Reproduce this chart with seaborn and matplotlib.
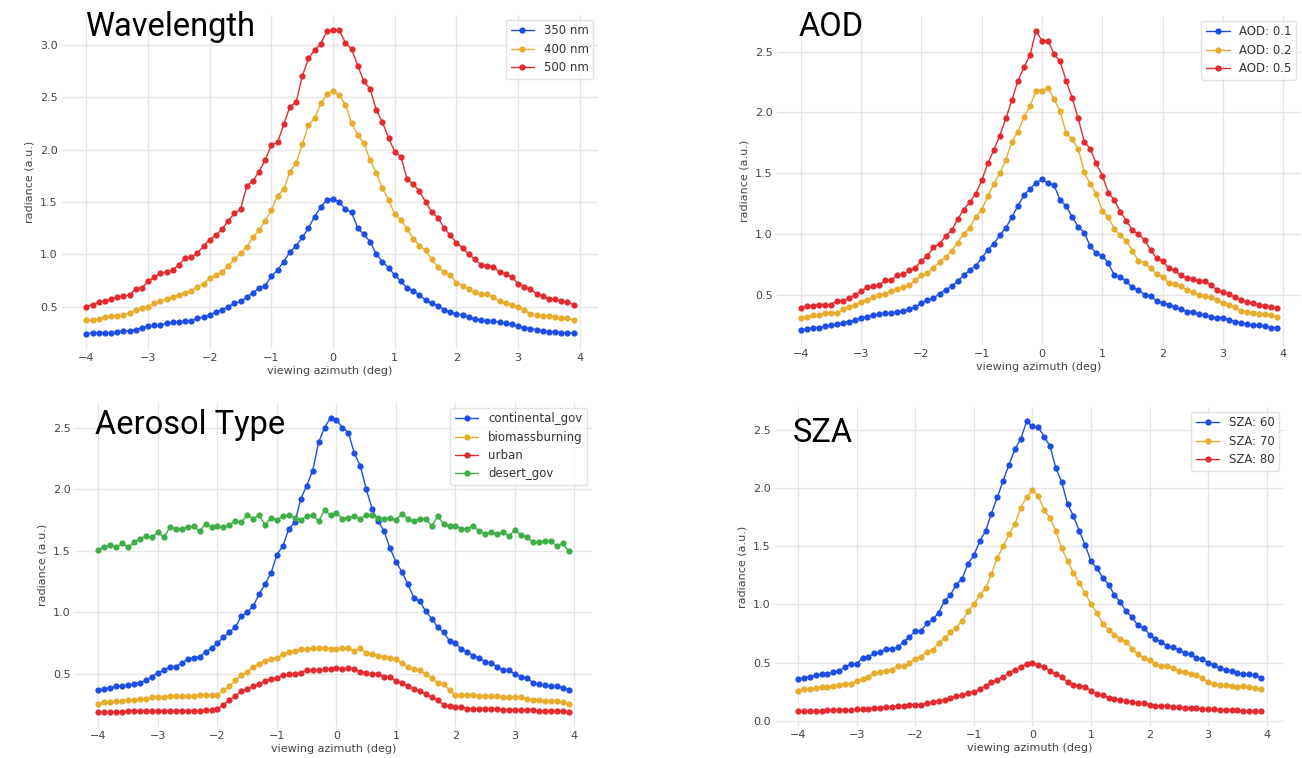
import numpy as np
import pandas as pd
import matplotlib
matplotlib.use("Agg")
import matplotlib.pyplot as plt
import seaborn as sns

# viewing azimuth grid (deg)
azimuth = np.round(np.arange(-40, 40) / 10.0, 1)

# ---- Wavelength panel ----
wl_labels = ["350 nm", "400 nm", "500 nm"]
wl_350 = [0.24,0.25,0.25,0.25,0.25,0.26,0.27,0.27,0.28,0.30, 0.31,0.32,0.32,0.34,0.35,0.35,0.36,0.36,0.39,0.40,
          0.42,0.45,0.47,0.50,0.53,0.55,0.59,0.63,0.68,0.70, 0.79,0.85,0.93,1.02,1.08,1.16,1.25,1.36,1.45,1.52,
          1.53,1.50,1.43,1.40,1.25,1.19,1.12,1.00,0.93,0.87, 0.80,0.74,0.68,0.65,0.61,0.56,0.53,0.51,0.47,0.45,
          0.43,0.42,0.40,0.38,0.37,0.36,0.36,0.35,0.34,0.33, 0.31,0.30,0.29,0.28,0.27,0.26,0.26,0.25,0.25,0.25]
wl_400 = [0.37,0.37,0.38,0.40,0.41,0.41,0.42,0.44,0.47,0.49, 0.50,0.53,0.55,0.57,0.59,0.61,0.63,0.65,0.69,0.72,
          0.77,0.80,0.83,0.89,0.95,1.01,1.07,1.16,1.23,1.32, 1.42,1.56,1.62,1.79,1.87,2.05,2.23,2.30,2.44,2.53,
          2.56,2.52,2.43,2.25,2.14,2.06,1.90,1.78,1.63,1.52, 1.38,1.33,1.24,1.15,1.08,1.04,0.95,0.88,0.83,0.80,
          0.73,0.70,0.67,0.64,0.62,0.62,0.59,0.55,0.53,0.52, 0.50,0.47,0.43,0.42,0.41,0.41,0.40,0.39,0.39,0.37]
wl_500 = [0.50,0.52,0.54,0.55,0.57,0.59,0.60,0.61,0.67,0.68, 0.74,0.78,0.82,0.83,0.85,0.90,0.96,0.97,1.01,1.08,
          1.14,1.18,1.24,1.32,1.39,1.43,1.65,1.70,1.79,1.90, 2.04,2.07,2.24,2.41,2.45,2.70,2.87,2.95,3.01,3.13,
          3.14,3.14,3.02,2.96,2.80,2.65,2.58,2.38,2.26,2.11, 1.98,1.93,1.72,1.67,1.60,1.50,1.40,1.35,1.25,1.18,
          1.11,1.06,1.00,0.95,0.90,0.89,0.88,0.83,0.81,0.78, 0.72,0.69,0.67,0.62,0.60,0.57,0.57,0.55,0.54,0.52]

# ---- AOD panel ----
aod_labels = ["AOD: 0.1", "AOD: 0.2", "AOD: 0.5"]
aod_01 = [0.21,0.22,0.23,0.23,0.24,0.25,0.26,0.27,0.28,0.29, 0.31,0.32,0.33,0.34,0.35,0.35,0.36,0.37,0.38,0.40,
          0.43,0.46,0.47,0.51,0.54,0.57,0.61,0.66,0.70,0.74, 0.80,0.87,0.92,0.99,1.05,1.14,1.23,1.32,1.37,1.42,
          1.45,1.42,1.40,1.28,1.23,1.14,1.06,1.01,0.90,0.84, 0.82,0.76,0.66,0.65,0.61,0.56,0.54,0.50,0.49,0.45,
          0.43,0.42,0.40,0.38,0.36,0.36,0.34,0.33,0.32,0.31, 0.31,0.29,0.28,0.27,0.26,0.25,0.25,0.24,0.23,0.23]
aod_02 = [0.31,0.32,0.33,0.33,0.35,0.35,0.35,0.38,0.40,0.42, 0.44,0.46,0.48,0.50,0.51,0.53,0.55,0.56,0.58,0.62,
          0.66,0.68,0.72,0.77,0.81,0.86,0.93,1.00,1.05,1.14, 1.20,1.31,1.41,1.50,1.61,1.76,1.84,1.96,2.05,2.18,
          2.18,2.20,2.11,2.01,1.83,1.78,1.70,1.51,1.41,1.33, 1.19,1.14,1.04,0.99,0.94,0.86,0.78,0.76,0.72,0.67,
          0.65,0.60,0.59,0.57,0.54,0.52,0.50,0.49,0.48,0.46, 0.43,0.42,0.40,0.37,0.36,0.35,0.34,0.34,0.33,0.32]
aod_05 = [0.39,0.41,0.41,0.42,0.42,0.42,0.45,0.45,0.47,0.50, 0.53,0.56,0.57,0.58,0.62,0.62,0.66,0.67,0.70,0.72,
          0.78,0.82,0.89,0.92,0.98,1.03,1.12,1.20,1.26,1.33, 1.44,1.58,1.69,1.81,1.95,2.10,2.26,2.37,2.47,2.67,
          2.59,2.59,2.48,2.42,2.26,2.12,1.95,1.76,1.70,1.58, 1.48,1.34,1.28,1.18,1.11,1.03,1.00,0.95,0.87,0.80,
          0.78,0.72,0.70,0.66,0.64,0.63,0.61,0.61,0.58,0.54, 0.52,0.51,0.48,0.46,0.44,0.43,0.42,0.41,0.40,0.39]

# ---- Aerosol type panel ----
aer_labels = ["continental_gov", "biomassburning", "urban", "desert_gov"]
aer_cont = [0.37,0.38,0.39,0.40,0.40,0.41,0.42,0.43,0.45,0.48, 0.51,0.53,0.56,0.56,0.59,0.62,0.63,0.64,0.68,0.71,
            0.75,0.80,0.84,0.88,0.97,1.00,1.05,1.15,1.23,1.32, 1.47,1.54,1.68,1.73,1.92,2.03,2.15,2.38,2.50,2.58,
            2.56,2.50,2.46,2.29,2.19,2.00,1.84,1.74,1.66,1.52, 1.41,1.33,1.23,1.12,1.09,1.01,0.95,0.88,0.84,0.77,
            0.75,0.70,0.68,0.65,0.63,0.60,0.59,0.56,0.53,0.53, 0.50,0.48,0.47,0.43,0.42,0.41,0.40,0.40,0.39,0.37]
aer_bio = [0.26,0.27,0.27,0.28,0.28,0.29,0.29,0.30,0.30,0.31, 0.31,0.31,0.32,0.32,0.32,0.32,0.32,0.33,0.33,0.33,
           0.33,0.37,0.40,0.45,0.49,0.52,0.56,0.58,0.61,0.62, 0.63,0.66,0.68,0.69,0.70,0.70,0.71,0.71,0.71,0.70,
           0.70,0.71,0.71,0.69,0.71,0.67,0.66,0.65,0.64,0.63, 0.62,0.59,0.56,0.54,0.53,0.50,0.47,0.43,0.42,0.37,
           0.33,0.33,0.33,0.33,0.32,0.32,0.32,0.32,0.31,0.31, 0.31,0.31,0.30,0.29,0.29,0.28,0.28,0.28,0.27,0.26]
aer_urban = [0.19,0.19,0.19,0.19,0.19,0.20,0.20,0.20,0.20,0.20, 0.20,0.20,0.20,0.20,0.20,0.20,0.20,0.20,0.21,0.21,
             0.22,0.25,0.29,0.32,0.36,0.38,0.40,0.42,0.44,0.46, 0.47,0.49,0.50,0.50,0.51,0.53,0.53,0.53,0.54,0.54,
             0.55,0.54,0.55,0.54,0.52,0.51,0.50,0.50,0.48,0.48, 0.44,0.43,0.40,0.38,0.36,0.34,0.31,0.29,0.25,0.24,
             0.23,0.23,0.22,0.22,0.22,0.22,0.22,0.22,0.21,0.21, 0.21,0.21,0.21,0.21,0.20,0.20,0.20,0.20,0.20,0.19]
aer_desert = [1.51,1.53,1.55,1.53,1.56,1.53,1.57,1.60,1.62,1.61, 1.65,1.61,1.69,1.68,1.68,1.69,1.70,1.66,1.72,1.69,
              1.70,1.69,1.71,1.74,1.73,1.79,1.76,1.79,1.71,1.77, 1.75,1.78,1.79,1.77,1.75,1.78,1.79,1.74,1.83,1.79,
              1.81,1.76,1.77,1.78,1.76,1.79,1.79,1.77,1.76,1.77, 1.75,1.80,1.76,1.74,1.76,1.76,1.70,1.78,1.72,1.70,
              1.70,1.68,1.68,1.70,1.66,1.64,1.65,1.64,1.65,1.62, 1.67,1.63,1.61,1.57,1.57,1.58,1.58,1.54,1.56,1.50]

# ---- SZA panel ----
sza_labels = ["SZA: 60", "SZA: 70", "SZA: 80"]
sza_60 = [0.36,0.37,0.38,0.39,0.40,0.40,0.42,0.43,0.46,0.49, 0.49,0.54,0.55,0.58,0.59,0.62,0.62,0.63,0.68,0.72,
          0.77,0.77,0.84,0.87,0.93,1.03,1.08,1.17,1.22,1.35, 1.42,1.54,1.63,1.78,1.92,2.06,2.20,2.33,2.42,2.57,
          2.53,2.52,2.44,2.36,2.17,2.05,1.86,1.76,1.63,1.51, 1.37,1.31,1.23,1.17,1.08,1.02,0.94,0.89,0.82,0.80,
          0.74,0.70,0.68,0.64,0.63,0.61,0.58,0.57,0.54,0.53, 0.50,0.48,0.45,0.44,0.43,0.41,0.40,0.40,0.39,0.37]
sza_70 = [0.26,0.27,0.27,0.28,0.29,0.29,0.30,0.31,0.32,0.32, 0.34,0.36,0.38,0.41,0.42,0.43,0.44,0.47,0.47,0.50,
          0.53,0.55,0.59,0.61,0.67,0.71,0.76,0.80,0.86,0.94, 1.00,1.08,1.14,1.26,1.40,1.50,1.60,1.69,1.83,1.92,
          1.98,1.93,1.81,1.74,1.63,1.48,1.37,1.27,1.18,1.10, 1.00,0.93,0.83,0.78,0.74,0.70,0.68,0.62,0.57,0.54,
          0.52,0.49,0.47,0.47,0.45,0.43,0.42,0.40,0.39,0.37, 0.33,0.32,0.31,0.31,0.30,0.29,0.30,0.29,0.28,0.27]
sza_80 = [0.08,0.08,0.08,0.08,0.08,0.09,0.09,0.09,0.09,0.09, 0.10,0.10,0.10,0.11,0.11,0.12,0.12,0.13,0.13,0.14,
          0.14,0.14,0.15,0.16,0.17,0.18,0.20,0.21,0.22,0.24, 0.25,0.27,0.30,0.33,0.35,0.38,0.41,0.44,0.46,0.49,
          0.50,0.48,0.46,0.43,0.40,0.38,0.33,0.31,0.30,0.29, 0.26,0.23,0.22,0.20,0.19,0.18,0.17,0.16,0.15,0.15,
          0.14,0.13,0.13,0.13,0.12,0.12,0.11,0.11,0.11,0.10, 0.10,0.10,0.09,0.09,0.09,0.09,0.08,0.08,0.08,0.08]

x_ticks = [-4, -3, -2, -1, 0, 1, 2, 3, 4]
panel_titles = ["Wavelength", "AOD", "Aerosol Type", "SZA"]

BLUE, YELLOW, RED, GREEN = "#1c4ee6", "#e8ac2c", "#e32a2f", "#3fae49"

sns.set_theme(style="whitegrid")
plt.rcParams["font.family"] = ["DejaVu Sans"]

W, H = 1302, 758
fig = plt.figure(figsize=(W / 100, H / 100), dpi=100)
fig.patch.set_facecolor("white")


def px_axes(left, top, right, bottom):
    return fig.add_axes([left / W, 1 - bottom / H, (right - left) / W, (bottom - top) / H])


panels = [
    (px_axes(62, 15, 598, 349), wl_labels, [wl_350, wl_400, wl_500], [BLUE, YELLOW, RED]),
    (px_axes(777, 16, 1301, 345), aod_labels, [aod_01, aod_02, aod_05], [BLUE, YELLOW, RED]),
    (px_axes(75, 403, 592, 727), aer_labels, [aer_cont, aer_bio, aer_urban, aer_desert], [BLUE, YELLOW, RED, GREEN]),
    (px_axes(775, 407, 1284, 726), sza_labels, [sza_60, sza_70, sza_80], [BLUE, YELLOW, RED]),
]

for ax, labels, series, colors in panels:
    frames = []
    for lab, vals in zip(labels, series):
        frames.append(pd.DataFrame({"azimuth": azimuth, "radiance": vals, "series": lab}))
    df = pd.concat(frames, ignore_index=True)
    sns.lineplot(data=df, x="azimuth", y="radiance", hue="series", hue_order=labels,
                 palette=colors, marker="o", markersize=4.5, markeredgewidth=0,
                 linewidth=1.0, ax=ax, errorbar=None)
    ax.set_facecolor("white")
    for s in ax.spines.values():
        s.set_visible(False)
    ax.grid(True, color="#e6e6e6", linewidth=1.0)
    ax.set_xticks(x_ticks)
    ax.tick_params(axis="both", labelsize=8, colors="#444444", length=0, pad=3)
    ax.set_xlabel("viewing azimuth (deg)", fontsize=8, color="#444444", labelpad=2)
    ax.set_ylabel("radiance (a.u.)", fontsize=8, color="#444444", labelpad=4)
    leg = ax.legend(loc="upper right", fontsize=8.5, frameon=True, borderaxespad=0.4,
                    handlelength=2.0, labelspacing=0.45)
    leg.get_frame().set_edgecolor("#dddddd")
    leg.get_frame().set_facecolor("white")
    for t in leg.get_texts():
        t.set_color("#333333")

title_pos = [(85, 36), (799, 36), (95, 434), (793, 442)]
for (tx, ty), title in zip(title_pos, panel_titles):
    fig.text(tx / W, 1 - ty / H, title, fontsize=23.5, family=["Roboto", "DejaVu Sans"],
             color="black", va="baseline", ha="left")

fig.savefig("out.png", dpi=100, facecolor="white")
